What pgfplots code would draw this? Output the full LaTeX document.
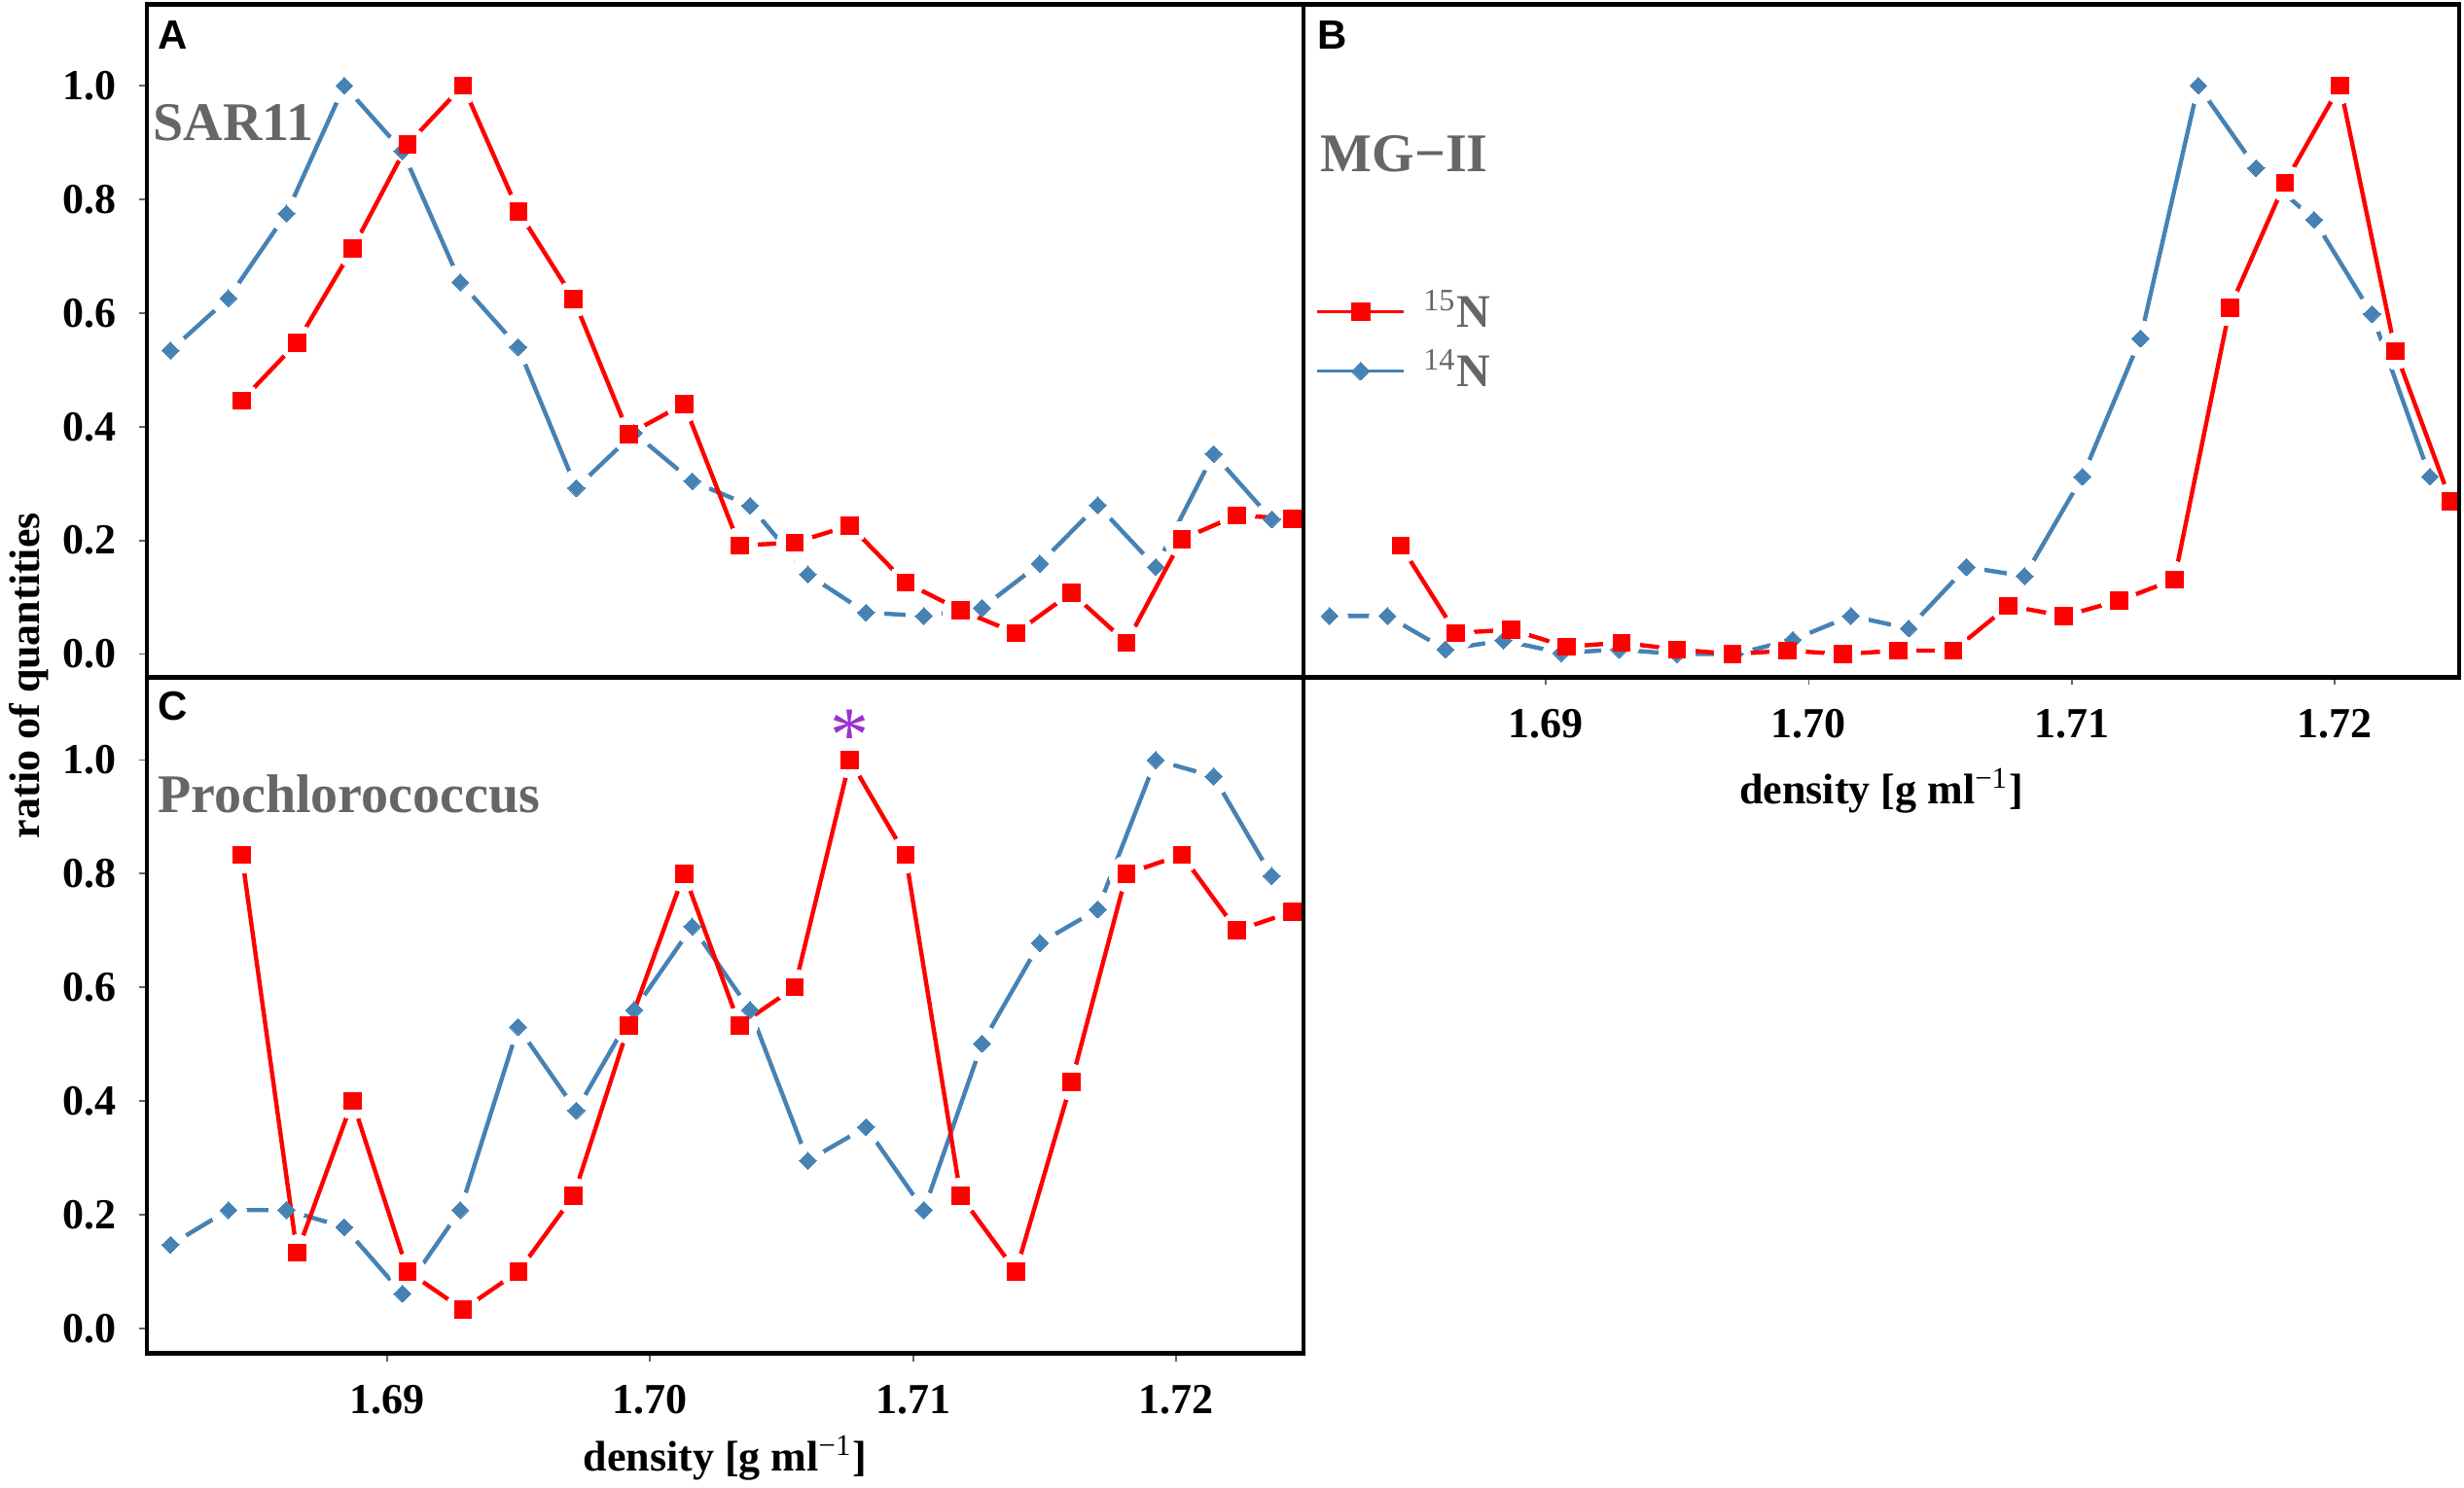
\documentclass[border=0pt]{standalone}
\usepackage{fontspec}
\setmainfont{Liberation Serif}
\newfontfamily\arialfont{Liberation Sans}
\usepackage{pgfplots}
\pgfplotsset{compat=1.18}
\usepackage{pgfplotstable}

\definecolor{myred}{RGB}{255,0,0}
\definecolor{myblue}{RGB}{70,130,180}
\definecolor{titlegray}{RGB}{102,102,102}
\definecolor{starpurple}{RGB}{153,51,204}
\definecolor{tickgray}{RGB}{100,100,100}

\pgfplotstableread{
x A B C
1.68176 0.534 0.067 0.147
1.68396 0.626 0.067 0.208
1.68617 0.775 0.008 0.208
1.68837 1.000 0.024 0.178
1.69058 0.885 0.002 0.061
1.69278 0.654 0.008 0.208
1.69498 0.540 0.000 0.530
1.69719 0.292 0.000 0.383
1.69939 0.389 0.025 0.560
1.70160 0.304 0.067 0.707
1.70380 0.261 0.045 0.560
1.70600 0.140 0.153 0.295
1.70821 0.073 0.137 0.354
1.71041 0.067 0.312 0.208
1.71262 0.081 0.555 0.501
1.71482 0.159 1.000 0.678
1.71702 0.262 0.855 0.737
1.71923 0.153 0.764 1.000
1.72143 0.352 0.598 0.971
1.72364 0.237 0.312 0.796
}\blueT

\pgfplotstableread{
x A B C
1.68447 0.446 0.191 0.833
1.68657 0.548 0.037 0.133
1.68868 0.713 0.043 0.400
1.69078 0.897 0.013 0.100
1.69288 1.000 0.020 0.033
1.69499 0.779 0.008 0.100
1.69709 0.625 0.000 0.233
1.69919 0.387 0.006 0.533
1.70129 0.440 0.000 0.800
1.70340 0.191 0.006 0.533
1.70550 0.196 0.006 0.600
1.70760 0.226 0.085 1.000
1.70971 0.126 0.067 0.833
1.71181 0.077 0.094 0.233
1.71391 0.037 0.131 0.100
1.71602 0.108 0.609 0.433
1.71812 0.020 0.829 0.800
1.72022 0.202 1.000 0.833
1.72232 0.244 0.533 0.700
1.72443 0.238 0.269 0.733
}\redT

\pgfplotsset{
  panel/.style={
    scale only axis, anchor=south west,
    axis on top, clip marker paths=true,
    axis line style={line width=1.1pt, black},
    ymin=-0.041, ymax=1.143,
    tick align=outside, major tick length=2pt,
    tick style={line width=0.45pt, tickgray},
    xtick pos=lower, ytick pos=left,
    /pgf/number format/assume math mode=true,
    every tick label/.append style={font=\fontsize{11}{13}\selectfont\bfseries, inner sep=0pt, /pgf/number format/assume math mode=true},
    yticklabel style={/pgf/number format/fixed, /pgf/number format/fixed zerofill, /pgf/number format/precision=1, xshift=-5.7pt},
    xticklabel style={/pgf/number format/fixed, /pgf/number format/fixed zerofill, /pgf/number format/precision=2, yshift=-6pt},
    ytick={0,0.2,0.4,0.6,0.8,1},
    xtick={1.69,1.70,1.71,1.72},
    xlabel style={font=\fontsize{11}{13}\selectfont\bfseries, at={(axis description cs:0.5,0)}, anchor=base, inner sep=0pt},
  },
  haloB/.style={forget plot, myblue, line width=1.1pt, line cap=round, line join=round, mark=*, mark size=4.6pt, mark options={draw=white, fill=white, line width=0pt, solid}},
  haloR/.style={forget plot, myred, line width=1.1pt, line cap=round, line join=round, mark=*, mark size=4.6pt, mark options={draw=white, fill=white, line width=0pt, solid}},
  marksB/.style={forget plot, only marks, mark=square*, mark size=1.55pt, mark options={rotate=45, fill=myblue, draw=myblue, line width=0pt, solid}},
  marksR/.style={forget plot, only marks, mark=square*, mark size=2.2pt, mark options={fill=myred, draw=myred, line width=0pt, solid}},
}

\begin{document}
\begin{tikzpicture}
\useasboundingbox (0pt,0pt) rectangle (633.25pt,382.25pt);

% Panel A
\begin{axis}[panel, at={(37.68pt,208.13pt)}, width=297.33pt, height=173pt,
  xmin=1.68085, xmax=1.72485, xtick=\empty]
\addplot[haloB] table[x=x,y=A]{\blueT};
\addplot[haloR] table[x=x,y=A]{\redT};
\addplot[marksB] table[x=x,y=A]{\blueT};
\addplot[marksR] table[x=x,y=A]{\redT};
\end{axis}

% Panel B
\begin{axis}[panel, at={(335pt,208.13pt)}, width=297pt, height=173pt,
  xmin=1.68077, xmax=1.72475, ytick=\empty,
  xlabel={density [g ml\textsuperscript{\mdseries −1}]},
  xlabel style={yshift=-32.5pt},
  legend style={at={(0.0107,0.4994)}, anchor=west, draw=none, fill=none,
    inner sep=0pt, outer sep=0pt, row sep=4.2pt, column sep=4.6pt,
    nodes={inner sep=0pt, text=titlegray, font=\fontsize{12}{14}\selectfont\bfseries}},
  legend cell align=left,
  legend image code/.code={\draw[mark repeat=2, mark phase=2, #1] plot coordinates {(0pt,0pt) (11.1pt,0pt) (22.2pt,0pt)};}]
\addplot[haloB] table[x=x,y=B]{\blueT};
\addplot[haloR] table[x=x,y=B]{\redT};
\addplot[marksB] table[x=x,y=B]{\blueT};
\addplot[marksR] table[x=x,y=B]{\redT};
\addlegendimage{myred, line width=0.85pt, mark=square*, mark size=2.3pt, mark options={solid, fill=myred, draw=myred, line width=0pt}}
\addlegendentry{\textsuperscript{\mdseries 15}N}
\addlegendimage{myblue, line width=0.85pt, mark=square*, mark size=1.65pt, mark options={solid, rotate=45, fill=myblue, draw=myblue, line width=0pt}}
\addlegendentry{\textsuperscript{\mdseries 14}N}
\end{axis}

% Panel C
\begin{axis}[panel, at={(37.68pt,34.375pt)}, width=297.33pt, height=173.7pt,
  xmin=1.68085, xmax=1.72485, ymin=-0.044, ymax=1.145,
  xlabel={density [g ml\textsuperscript{\mdseries −1}]},
  xlabel style={yshift=-30.2pt}]
\addplot[haloB] table[x=x,y=C]{\blueT};
\addplot[haloR] table[x=x,y=C]{\redT};
\addplot[marksB] table[x=x,y=C]{\blueT};
\addplot[marksR] table[x=x,y=C]{\redT};
\node[text=starpurple, font=\fontsize{20}{20}\selectfont, inner sep=0pt, yshift=-2.6pt] at (axis cs:1.7076,1.061) {*};
\end{axis}

% y label
\node[rotate=90, anchor=center, inner sep=0pt, font=\fontsize{11}{13}\selectfont\bfseries] at (7.5pt,208.6pt) {ratio of quantities};

% panel letters
\node[anchor=base west, inner sep=0pt, font=\arialfont\bfseries\fontsize{10.5}{12}\selectfont] at (40.3pt,369.6pt) {A};
\node[anchor=base west, inner sep=0pt, font=\arialfont\bfseries\fontsize{10.5}{12}\selectfont] at (338.4pt,369.6pt) {B};
\node[anchor=base west, inner sep=0pt, font=\arialfont\bfseries\fontsize{10.5}{12}\selectfont] at (40.3pt,197.1pt) {C};

% panel titles
\node[anchor=base west, inner sep=0pt, text=titlegray, font=\fontsize{14}{16}\selectfont\bfseries] at (39.25pt,346.1pt) {SAR11};
\node[anchor=base west, inner sep=0pt, text=titlegray, font=\fontsize{14}{16}\selectfont\bfseries] at (339.25pt,338pt) {MG−II};
\node[anchor=base west, inner sep=0pt, text=titlegray, font=\fontsize{14}{16}\selectfont\bfseries] at (40.35pt,173.25pt) {Prochlorococcus};
\end{tikzpicture}
\end{document}
